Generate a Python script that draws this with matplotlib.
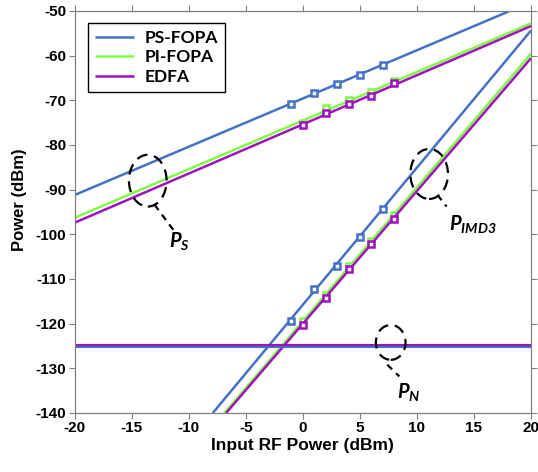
import matplotlib
matplotlib.use("Agg")
import matplotlib.pyplot as plt
from matplotlib.patches import Ellipse

plt.rcParams['font.family'] = ['Liberation Sans', 'DejaVu Sans']
plt.rcParams['axes.unicode_minus'] = False
plt.rcParams['mathtext.fontset'] = 'custom'
plt.rcParams['mathtext.it'] = 'Lato:italic:bold'
plt.rcParams['mathtext.rm'] = 'Lato:italic:bold'
plt.rcParams['mathtext.bf'] = 'Lato:italic:bold'

# ---- data ----
series = ['PS-FOPA', 'PI-FOPA', 'EDFA']
colors = ['#4472C4', '#80FF40', '#A010C0']

# fitted signal lines (endpoints)
sig_x = {'PS-FOPA': [-20, 18.07], 'PI-FOPA': [-20, 20], 'EDFA': [-20, 20]}
sig_y = {'PS-FOPA': [-91.2, -50.1], 'PI-FOPA': [-96.3, -52.8], 'EDFA': [-97.4, -53.4]}
# fitted IMD3 lines (endpoints)
imd_x = {'PS-FOPA': [-7.9, 20], 'PI-FOPA': [-6.87, 20], 'EDFA': [-6.73, 20]}
imd_y = {'PS-FOPA': [-140, -54.4], 'PI-FOPA': [-140, -59.6], 'EDFA': [-140, -60.6]}
# noise floor
noise_x = [-20, 20]
noise_y = {'PS-FOPA': -125.15, 'PI-FOPA': -125.05, 'EDFA': -124.8}
noise_z = {'PS-FOPA': 2.2, 'PI-FOPA': 2.1, 'EDFA': 2.3}

# measured points
meas_x = {'PS-FOPA': [-1, 1, 3, 5, 7], 'PI-FOPA': [0, 2, 4, 6, 8], 'EDFA': [0, 2, 4, 6, 8]}
meas_sig = {'PS-FOPA': [-70.9, -68.3, -66.4, -64.3, -62.1],
            'PI-FOPA': [-75.0, -71.8, -69.9, -68.2, -65.7],
            'EDFA': [-75.5, -72.9, -70.9, -69.0, -66.2]}
meas_imd = {'PS-FOPA': [-119.4, -112.2, -107.2, -100.7, -94.3],
            'PI-FOPA': [-119.5, -113.6, -107.2, -101.5, -95.6],
            'EDFA': [-120.2, -114.3, -107.7, -102.2, -96.5]}

xticks = [-20, -15, -10, -5, 0, 5, 10, 15, 20]
yticks = [-50, -60, -70, -80, -90, -100, -110, -120, -130, -140]

fig = plt.figure(figsize=(5.38, 4.72), dpi=100)
ax = fig.add_axes([0.139, 0.125, 0.848, 0.852])

for s, c in zip(series, colors):
    ax.plot(sig_x[s], sig_y[s], color=c, lw=1.8, label=s, solid_capstyle='butt')
    ax.plot(imd_x[s], imd_y[s], color=c, lw=1.8, solid_capstyle='butt')
    ax.plot(noise_x, [noise_y[s]] * 2, color=c, lw=1.5, zorder=noise_z[s])
    ax.plot(meas_x[s], meas_sig[s], ls='none', marker='s', ms=4.5, mew=1.8,
            mec=c, mfc='white')
    ax.plot(meas_x[s], meas_imd[s], ls='none', marker='s', ms=4.5, mew=1.8,
            mec=c, mfc='white')

ax.set_xlim(-20, 20)
ax.set_ylim(-140, -50)
ax.set_xticks(xticks)
ax.set_yticks(yticks)
for lab in ax.get_xticklabels() + ax.get_yticklabels():
    lab.set_fontweight('bold')
    lab.set_fontsize(11)
ax.tick_params(direction='out', length=4, color='#808080', width=0.8,
               top=True, right=True, pad=2)
for sp in ax.spines.values():
    sp.set_color('#808080')
    sp.set_linewidth(0.9)

ax.set_xlabel('Input RF Power (dBm)', fontsize=12.5, fontweight='bold', labelpad=2)
ax.set_ylabel('Power (dBm)', fontsize=12, fontweight='bold', labelpad=2)
ax.yaxis.set_label_coords(-0.105, 0.53)

leg = ax.legend(loc='upper left', bbox_to_anchor=(0.028, 0.97), borderaxespad=0,
                fancybox=False, edgecolor='black', framealpha=1,
                prop={'family': 'Lato', 'weight': 'bold', 'size': 12.5}, handlelength=2.3,
                handletextpad=0.6, borderpad=0.4, labelspacing=0.2)
leg.get_frame().set_linewidth(1.0)

# annotations
def annot(cx, cy, w, h, lx0, ly0, lx1, ly1, tx, ty, text):
    e = Ellipse((cx, cy), w, h, fill=False, ls=(0, (5, 3)), lw=1.6, color='black', zorder=5)
    ax.add_patch(e)
    ax.plot([lx0, lx1], [ly0, ly1], color='black', lw=1.6, ls=(0, (3, 2.5)), zorder=5)
    ax.text(tx, ty, text, fontsize=14.5, ha='center', va='center', zorder=6)

annot(-13.6, -88.0, 3.3, 11.6, -13.0, -93.4, -11.25, -99.4, -10.8, -101.6, r'$P_{S}$')
annot(11.07, -86.5, 3.3, 11.2, 11.8, -91.2, 12.6, -93.8, 14.9, -97.9, r'$P_{IMD3}$')
annot(7.7, -124.2, 2.6, 7.8, 7.4, -129.2, 8.45, -131.8, 9.3, -135.6, r'$P_{N}$')

fig.savefig('out.png', dpi=100)
